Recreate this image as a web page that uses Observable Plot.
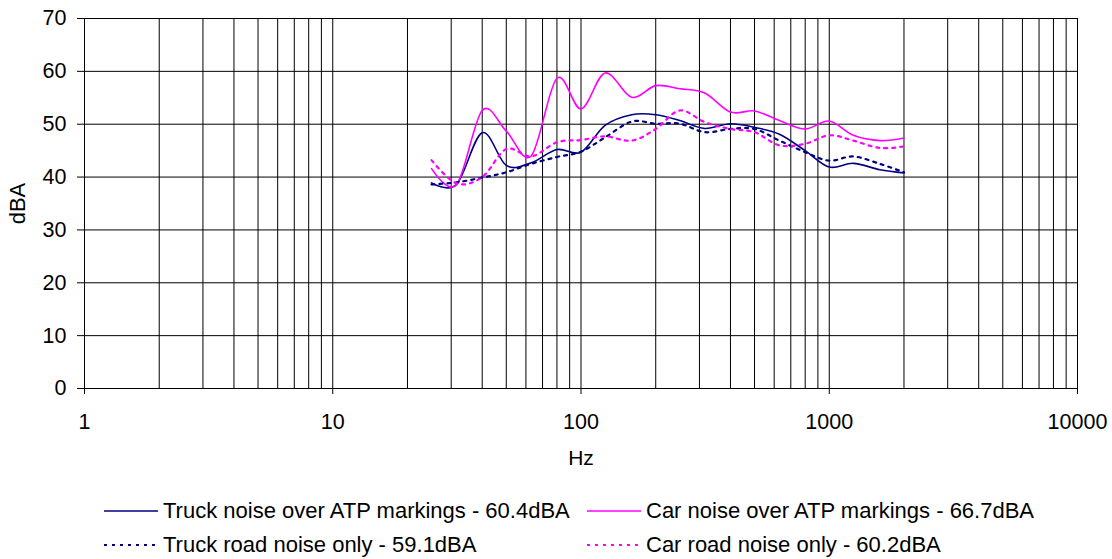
<!DOCTYPE html>
<html>
<head>
<meta charset="utf-8">
<script src="https://cdn.jsdelivr.net/npm/d3@7"></script>
<script src="https://cdn.jsdelivr.net/npm/@observablehq/plot@0.6"></script>
<style>
  html, body { margin: 0; padding: 0; background: #fff; }
  body { font-family: "Liberation Sans", Arial, sans-serif; width: 1112px; height: 559px; overflow: hidden; }
  #legend { position: relative; width: 1112px; height: 69px; font-size: 22px; color: #000; }
  .item { position: absolute; height: 34px; display: flex; align-items: center; white-space: nowrap; }
  .item svg { margin-right: 5px; }
</style>
</head>
<body>
<div id="chart"></div>
<div id="legend"></div>
<script>
// 1/3-octave band centre frequencies (Hz)
const freqs = [25, 31.5, 40, 50, 63, 80, 100, 125, 160, 200, 250, 315, 400, 500, 630, 800, 1000, 1250, 1600, 2000];

// Series values (dBA)
const truckATP  = [38.9, 38.6, 48.4, 42.2, 42.7, 45.2, 44.7, 49.8, 51.8, 51.8, 50.7, 49.2, 50.1, 49.4, 48.1, 45.0, 41.9, 42.6, 41.4, 40.8];
const carATP    = [41.6, 38.5, 52.6, 48.7, 44.0, 58.7, 52.9, 59.7, 55.1, 57.3, 56.7, 55.9, 52.3, 52.5, 50.7, 49.1, 50.6, 47.9, 46.9, 47.4];
const truckRoad = [38.6, 39.0, 39.9, 40.9, 42.5, 43.8, 44.8, 47.5, 50.5, 50.1, 50.1, 48.5, 49.1, 49.1, 46.9, 44.7, 43.1, 43.9, 42.5, 40.9];
const carRoad   = [43.2, 38.8, 40.0, 45.3, 43.9, 46.6, 47.0, 47.7, 46.9, 49.1, 52.6, 50.4, 49.1, 48.5, 46.0, 46.3, 47.9, 46.9, 45.5, 45.8];

const seriesNames = [
  "Truck noise over ATP markings - 60.4dBA",
  "Car noise over ATP markings - 66.7dBA",
  "Truck road noise only - 59.1dBA",
  "Car road noise only - 60.2dBA"
];
const seriesValues = [truckATP, carATP, truckRoad, carRoad];
const seriesColors = ["#000080", "#FF00FF", "#000080", "#FF00FF"];
const seriesDash = [null, null, "3,5", "3,5"];
const seriesWidth = [1.6, 1.6, 2.2, 2.2];

// Tick labels
const xTicks = [1, 10, 100, 1000, 10000];
const yTicks = [0, 10, 20, 30, 40, 50, 60, 70];
const gridMultipliers = [1, 2, 3, 4, 5, 6, 7, 8, 9];
const xGrid = xTicks.slice(0, -1).flatMap(d => gridMultipliers.map(k => d * k)).concat([10000]);

const rows = seriesNames.flatMap((name, s) =>
  freqs.map((f, i) => ({series: name, s, f, v: seriesValues[s][i]}))
);

const font = '"Liberation Sans", Arial, sans-serif';

const lineMarks = seriesNames.map((name, s) =>
  Plot.line(rows.filter(r => r.s === s), {
    x: "f", y: "v",
    stroke: seriesColors[s],
    strokeWidth: seriesWidth[s],
    strokeDasharray: seriesDash[s] || undefined,
    curve: "cardinal",
    tension: 0
  })
);

const chart = Plot.plot({
  width: 1112,
  height: 490,
  marginLeft: 84,
  marginRight: 35,
  marginTop: 18,
  marginBottom: 102,
  style: {fontFamily: font, color: "#000", background: "#fff"},
  x: {type: "log", domain: [1, 10000]},
  y: {domain: [0, 70]},
  marks: [
    Plot.ruleX(xGrid, {stroke: "#000", strokeWidth: 1}),
    Plot.ruleY(yTicks, {stroke: "#000", strokeWidth: 1}),
    Plot.axisX({ticks: xTicks, tickFormat: d => String(d), tickSize: 6, tickPadding: 19, fontSize: 21.5, label: null, stroke: "#000"}),
    Plot.axisY({ticks: yTicks, tickFormat: d => String(d), tickSize: 7, tickPadding: 11, fontSize: 21.5, label: null, stroke: "#000"}),
    ...lineMarks,
    Plot.text(["Hz"], {frameAnchor: "bottom", text: d => d, dy: 70, lineAnchor: "middle", fontSize: 21, fill: "#000"}),
    Plot.text(["dBA"], {frameAnchor: "left", text: d => d, rotate: -90, dx: -67, lineAnchor: "middle", textAnchor: "middle", fontSize: 22, fill: "#000"})
  ]
});
document.getElementById("chart").appendChild(chart);

// Legend (below the SVG)
const legend = document.getElementById("legend");
const legendPos = [
  {left: 104, top: 4},
  {left: 587, top: 4},
  {left: 104, top: 38},
  {left: 587, top: 38}
];
seriesNames.forEach((name, s) => {
  const item = document.createElement("div");
  item.className = "item";
  item.style.left = legendPos[s].left + "px";
  item.style.top = legendPos[s].top + "px";
  const sw = d3.create("svg").attr("width", 54).attr("height", 10);
  sw.append("line").attr("x1", 0).attr("x2", 54).attr("y1", 5).attr("y2", 5)
    .attr("stroke", seriesColors[s]).attr("stroke-width", seriesWidth[s])
    .attr("stroke-dasharray", seriesDash[s]);
  item.appendChild(sw.node());
  const t = document.createElement("span");
  t.textContent = name;
  item.appendChild(t);
  legend.appendChild(item);
});
</script>
</body>
</html>
